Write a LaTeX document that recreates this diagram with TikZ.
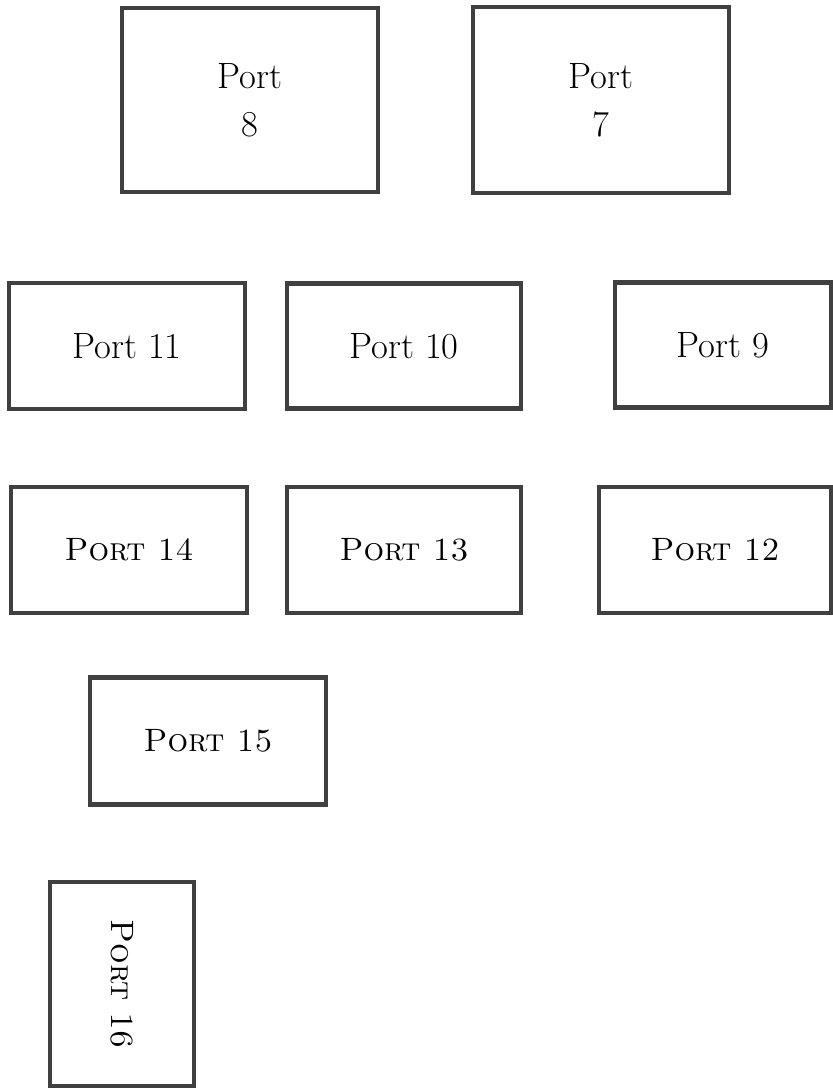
\documentclass[tikz,border=0pt]{standalone}
\usepackage{tikz}
\usetikzlibrary{positioning}

\begin{document}
\begin{tikzpicture}[
x=0.025cm, y=-0.025cm,
font=\fontsize{26}{34}\selectfont,
port/.style={
    draw=black!75, line width=3.5pt, fill=white,
    align=center, inner sep=0pt, anchor=center},
scport/.style={port, font=\fontsize{23}{30}\selectfont},
]

\useasboundingbox (0,0) rectangle (833,1088);

% top row
\node (P8) [port, minimum width=6.4cm, minimum height=4.6cm] at (250,100) {Port\\8};
\node (P7) [port, minimum width=6.4cm, minimum height=4.65cm] at (601,100) {Port\\7};

% second row
\node (P11) [port, minimum width=5.9cm, minimum height=3.15cm] at (127,346) {Port 11};
\node (P10) [port, minimum width=5.85cm, minimum height=3.12cm] at (404,346) {Port 10};
\node (P9)  [port, minimum width=5.4cm, minimum height=3.12cm] at (723,345) {Port 9};

% third row
\node (P14) [scport, minimum width=5.9cm, minimum height=3.15cm] at (129,550) {\textsc{Port 14}};
\node (P13) [scport, minimum width=5.85cm, minimum height=3.15cm] at (404,550) {\textsc{Port 13}};
\node (P12) [scport, minimum width=5.8cm, minimum height=3.15cm] at (715,550) {\textsc{Port 12}};

% bottom
\node (P15) [scport, minimum width=5.9cm, minimum height=3.17cm] at (208,741) {\textsc{Port 15}};
\node (P16) [scport, rotate=-90, minimum width=5.1cm, minimum height=3.6cm] at (122,984) {\textsc{Port 16}};

\end{tikzpicture}
\end{document}
